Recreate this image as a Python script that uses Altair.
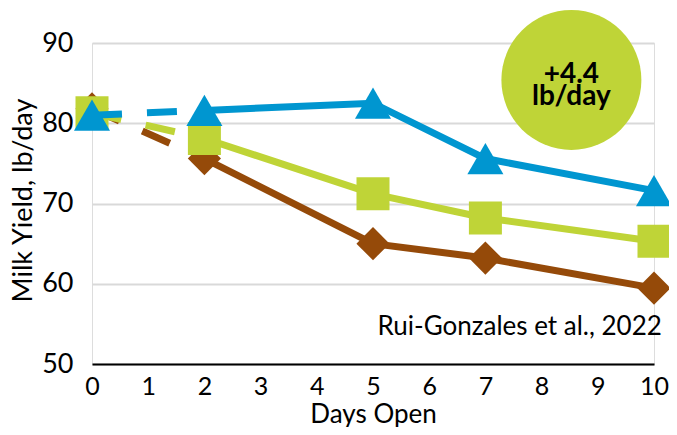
import altair as alt
import pandas as pd

days = [0, 2, 5, 7, 10]
series_names = ["brown", "green", "blue"]
brown_vals = [81.8, 75.6, 65.0, 63.2, 59.45]
green_vals = [81.3, 78.1, 71.2, 68.2, 65.3]
blue_vals = [81.0, 81.6, 82.5, 75.6, 71.6]
y_ticks = [50, 60, 70, 80, 90]
x_ticks = [0, 1, 2, 3, 4, 5, 6, 7, 8, 9, 10]
badge_text_value = "+4.4\nlb/day"
source_note = "Rui-Gonzales et al., 2022"

colors = {"brown": "#954A09", "green": "#BFD437", "blue": "#0096D0"}
shapes = {"brown": "diamond", "green": "square", "blue": "triangle-up"}
sizes = {"brown": 1100, "green": 1089, "blue": 1300}

rows = []
for name, vals in zip(series_names, [brown_vals, green_vals, blue_vals]):
    for d, v in zip(days, vals):
        rows.append({"day": d, "value": v, "series": name})
df = pd.DataFrame(rows)

xs = alt.Scale(domain=[0, 10], nice=False)
ys = alt.Scale(domain=[50, 90], nice=False)

x_axis = alt.Axis(values=x_ticks, title="Days Open", grid=False, ticks=False,
                  domainColor="black", domainWidth=2, labelFlush=False,
                  labelFont="Lato", labelFontSize=25, labelColor="black", labelPadding=10,
                  titleFont="Lato", titleFontSize=26, titleFontWeight="normal",
                  titleColor="black", titleY=50, titleBaseline="middle")
y_axis = alt.Axis(values=y_ticks, title="Milk Yield, lb/day", domain=False, ticks=False,
                  gridColor="#D9D9D9", gridWidth=2,
                  labelFont="Lato", labelFontSize=27, labelColor="black", labelPadding=19,
                  titleFont="Lato", titleFontSize=27, titleFontWeight="normal",
                  titleColor="black", titleX=-69, titleY=157, titleAngle=-90,
                  titleAlign="center", titleBaseline="middle")

X = lambda f: alt.X(f, type="quantitative", scale=xs, axis=x_axis)
Y = lambda f: alt.Y(f, type="quantitative", scale=ys, axis=y_axis)

layers = []
for name in series_names:
    sub = df[df.series == name]
    dashed = alt.Chart(sub[sub.day <= 2]).mark_line(
        color=colors[name], strokeWidth=7, strokeDash=[30, 25], strokeCap="butt"
    ).encode(x=X("day"), y=Y("value"))
    solid = alt.Chart(sub[sub.day >= 2]).mark_line(
        color=colors[name], strokeWidth=7
    ).encode(x=X("day"), y=Y("value"))
    pts = alt.Chart(sub).mark_point(
        shape=shapes[name], filled=True, opacity=1, color=colors[name], size=sizes[name]
    ).encode(x=X("day"), y=Y("value"))
    layers += [dashed, solid, pts]

badge_df = pd.DataFrame({"x": [8.53], "y": [85.4], "t": [badge_text_value]})
badge = alt.Chart(badge_df).mark_point(
    shape="circle", filled=True, opacity=1, color="#BFD437", size=19600, clip=False
).encode(x=X("x"), y=Y("y"))

badge_text = alt.Chart(badge_df).mark_text(
    font="Lato", fontWeight="bold", fontSize=28, color="black", lineBreak="\n",
    lineHeight=22, align="center", baseline="middle", dy=-5, clip=False
).encode(x=X("x"), y=Y("y"), text="t:N")

note_df = pd.DataFrame({"x": [10.14], "y": [53.6], "t": [source_note]})
note = alt.Chart(note_df).mark_text(
    font="Lato", fontSize=26, color="black", align="right", baseline="alphabetic"
).encode(x=X("x"), y=Y("y"), text="t:N")

chart = alt.layer(*layers, badge, badge_text, note).properties(
    width=562, height=321,
    autosize=alt.AutoSizeParams(type="none"),
    padding={"left": 84, "top": 35, "right": 15, "bottom": 63},
).configure_view(strokeWidth=0).configure(background="white")

chart.save("out.html", embed_options={"renderer": "svg", "actions": False})
